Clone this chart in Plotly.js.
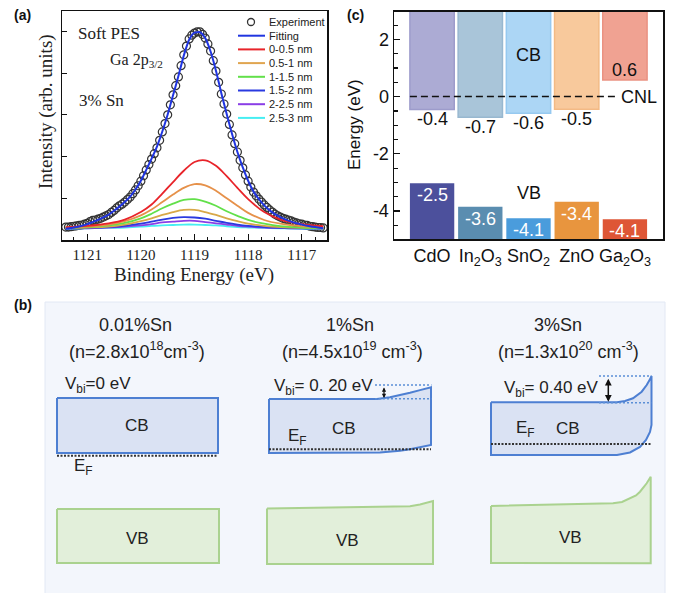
<!DOCTYPE html>
<html><head><meta charset="utf-8">
<script src="https://cdn.plot.ly/plotly-3.0.1.min.js"></script>
<style>html,body{margin:0;padding:0;background:#fff}#chart{width:673px;height:593px}</style>
</head><body><div id="chart"></div>
<script>
// ---------------- Panel (a): Ga 2p3/2 soft PES ----------------
const expEnergy = [1121.40,1121.35,1121.30,1121.25,1121.20,1121.15,1121.10,1121.05,1121.00,1120.95,1120.90,1120.85,1120.80,1120.75,1120.70,1120.65,1120.60,1120.55,1120.50,1120.45,1120.40,1120.35,1120.30,1120.25,1120.20,1120.15,1120.10,1120.05,1120.00,1119.95,1119.90,1119.85,1119.80,1119.75,1119.70,1119.65,1119.60,1119.55,1119.50,1119.45,1119.40,1119.35,1119.30,1119.25,1119.20,1119.15,1119.10,1119.05,1119.00,1118.95,1118.90,1118.85,1118.80,1118.75,1118.70,1118.65,1118.60,1118.55,1118.50,1118.45,1118.40,1118.35,1118.30,1118.25,1118.20,1118.15,1118.10,1118.05,1118.00,1117.95,1117.90,1117.85,1117.80,1117.75,1117.70,1117.65,1117.60,1117.55,1117.50,1117.45,1117.40,1117.35,1117.30,1117.25,1117.20,1117.15,1117.10,1117.05,1117.00,1116.95,1116.90,1116.85,1116.80,1116.75,1116.70,1116.65,1116.60];
const expIntensity = [0.31,0.31,0.32,0.33,0.34,0.35,0.36,0.38,0.40,0.44,0.47,0.48,0.50,0.52,0.55,0.58,0.61,0.66,0.71,0.77,0.82,0.86,0.91,0.97,1.03,1.11,1.20,1.30,1.41,1.54,1.68,1.81,1.94,2.07,2.21,2.39,2.59,2.79,3.00,3.24,3.48,3.70,3.91,4.18,4.44,4.65,4.82,4.91,4.96,4.99,4.99,4.93,4.84,4.70,4.53,4.30,4.05,3.78,3.50,3.26,3.02,2.77,2.52,2.31,2.11,1.91,1.73,1.56,1.41,1.27,1.15,1.06,0.98,0.91,0.84,0.78,0.72,0.67,0.62,0.58,0.55,0.52,0.50,0.48,0.46,0.43,0.41,0.39,0.38,0.36,0.35,0.33,0.32,0.31,0.30,0.30,0.29];
const fitEnergy = [1121.4,1121.3,1121.2,1121.1,1121.0,1120.9,1120.8,1120.7,1120.6,1120.5,1120.4,1120.3,1120.2,1120.1,1120.0,1119.9,1119.8,1119.7,1119.6,1119.5,1119.4,1119.3,1119.2,1119.1,1119.0,1118.9,1118.8,1118.7,1118.6,1118.5,1118.4,1118.3,1118.2,1118.1,1118.0,1117.9,1117.8,1117.7,1117.6,1117.5,1117.4,1117.3,1117.2,1117.1,1117.0,1116.9,1116.8,1116.7,1116.6];
const fitIntensity = [0.27,0.29,0.31,0.34,0.38,0.43,0.48,0.54,0.61,0.70,0.80,0.91,1.04,1.21,1.42,1.68,1.95,2.24,2.60,3.01,3.47,3.93,4.42,4.80,4.97,4.98,4.84,4.52,4.06,3.52,3.02,2.54,2.11,1.74,1.42,1.16,0.98,0.83,0.71,0.62,0.55,0.49,0.44,0.40,0.37,0.34,0.32,0.30,0.28];
const compEnergy = [1121.4,1121.0,1120.6,1120.3,1120.0,1119.8,1119.6,1119.4,1119.2,1119.0,1118.8,1118.6,1118.4,1118.2,1118.0,1117.7,1117.4,1117.0,1116.6];
const comp0_05  = [0.31,0.34,0.40,0.49,0.67,0.85,1.11,1.39,1.66,1.87,1.91,1.78,1.53,1.25,0.98,0.67,0.49,0.38,0.33];
const comp05_1  = [0.30,0.32,0.37,0.45,0.59,0.73,0.91,1.09,1.25,1.34,1.31,1.18,1.00,0.82,0.65,0.48,0.39,0.33,0.31];
const comp1_15  = [0.30,0.31,0.35,0.41,0.52,0.63,0.76,0.87,0.96,0.98,0.92,0.82,0.69,0.58,0.48,0.39,0.33,0.30,0.29];
const compExtra = [0.29,0.30,0.32,0.37,0.45,0.52,0.60,0.67,0.72,0.72,0.67,0.60,0.52,0.45,0.39,0.34,0.31,0.29,0.28];
const comp15_2  = [0.28,0.29,0.31,0.34,0.39,0.44,0.49,0.53,0.55,0.54,0.51,0.46,0.41,0.37,0.34,0.31,0.29,0.28,0.28];
const comp2_25  = [0.28,0.28,0.30,0.32,0.35,0.38,0.42,0.44,0.46,0.46,0.43,0.40,0.37,0.34,0.32,0.30,0.29,0.28,0.28];
const comp25_3  = [0.27,0.28,0.29,0.30,0.32,0.34,0.35,0.36,0.37,0.37,0.36,0.35,0.33,0.31,0.30,0.29,0.28,0.27,0.27];
const legendNames = ["Experiment","Fitting","0-0.5 nm","0.5-1 nm","1-1.5 nm","1.5-2 nm","2-2.5 nm","2.5-3 nm"];
const legendColors = ["#333333","#2035e0","#e8242a","#e0a550","#62e04a","#2a3ae0","#8a3ee6","#46eef2"];

// ---------------- Panel (c): band alignment ----------------
const materials = ["CdO","In<sub>2</sub>O<sub>3</sub>","SnO<sub>2</sub>","ZnO","Ga<sub>2</sub>O<sub>3</sub>"];
const matIndex = [0,1,2,3,4];
const cbMin = [-0.45,-0.72,-0.58,-0.44,0.58];
const vbMax = [-3.03,-3.85,-4.25,-3.68,-4.29];
const cbLabels = ["-0.4","-0.7","-0.6","-0.5","0.6"];
const vbLabels = ["-2.5","-3.6","-4.1","-3.4","-4.1"];
const cbFill = ["#acabd4","#a9c5d9","#acd6f5","#f8c99c","#f0a292"];
const cbEdge = ["#9d9ccb","#98b8d0","#96c9f0","#f3ba85","#ea9282"];
const vbFill = ["#4c509c","#5a8db0","#4a9cdc","#e8953e","#de5636"];
const energyTicks = [-4,-2,0,2];
const energyTickText = ["-4","-2","0","2"];

// ---------------- Panel (b): band-bending schematic (drawing units) ----------------
const panelTitles = ["0.01%Sn","1%Sn","3%Sn"];
const carrierLabels = ["(n=2.8x10<sup>18</sup>cm<sup>-3</sup>)","(n=4.5x10<sup>19</sup> cm<sup>-3</sup>)","(n=1.3x10<sup>20</sup> cm<sup>-3</sup>)"];
const vbiLabels = ["V<sub>bi</sub>=0 eV","V<sub>bi</sub>= 0. 20 eV","V<sub>bi</sub>= 0.40 eV"];
const cb1X = [57,218,218,57,57];
const cb1Y = [398,398,453,453,398];
const vb1X = [57,219,219,57,57];
const vb1Y = [509,509,563,563,509];
const cb2X = [269,377,390,400,410,420,431,431,420,410,400,390,380,269,269];
const cb2Y = [399,399,397.2,395.2,392.7,390.1,387.3,445,447.5,449.3,450.7,451.8,452.5,453,399];
const vb2X = [267,400,410,420,427,433,433,267,267];
const vb2Y = [508.5,507,506.3,504.5,502.8,501,564,564,508.5];
const cb3X = [491,617,625,633,641.7,646.7,650,651.5,651.5,650,646,640,630,617,491,491];
const cb3Y = [402.3,402.3,401,398.3,391.7,385,379.3,376,425,432,440,447,452.5,455,455,402.3];
const vb3X = [491,613,622,630,636,640,644,646.7,650.7,650.7,491,491];
const vb3Y = [506,503.3,502,498.3,495.5,491.7,487,483.3,476.7,563.3,563,506];

const W = 673, H = 593;
const px = v => v / W, py = v => 1 - v / H;
const SERIF = "Liberation Serif, Times New Roman, serif";
const SANS = "Liberation Sans, Arial, sans-serif";

const traces = [];
// (a)
traces.push({x: expEnergy, y: expIntensity, mode: 'markers', type: 'scatter', xaxis: 'x', yaxis: 'y',
  marker: {symbol: 'circle-open', size: 8, color: '#333', line: {width: 1.2, color: '#333'}}, hoverinfo: 'skip'});
const comps = [
  [comp25_3, '#46eef2'], [comp2_25, '#8a3ee6'], [comp15_2, '#2a3ae0'], [compExtra, '#d8a848'],
  [comp1_15, '#62e04a'], [comp05_1, '#e6914a'], [comp0_05, '#e8242a']
];
comps.forEach(([vals, col]) => traces.push({x: compEnergy, y: vals, mode: 'lines', type: 'scatter', xaxis: 'x', yaxis: 'y',
  line: {color: col, width: 1.8, shape: 'spline', smoothing: 1}, hoverinfo: 'skip'}));
traces.push({x: fitEnergy, y: fitIntensity, mode: 'lines', type: 'scatter', xaxis: 'x', yaxis: 'y',
  line: {color: '#2035e0', width: 2, shape: 'spline', smoothing: 0.6}, hoverinfo: 'skip'});

// (c)
traces.push({type: 'bar', x: matIndex, base: cbMin, y: cbMin.map(v => 4 - v), width: 0.92, xaxis: 'x2', yaxis: 'y2',
  marker: {color: cbFill, line: {color: cbEdge, width: 1.5}}, hoverinfo: 'skip'});
traces.push({type: 'bar', x: matIndex, base: vbMax.map(() => -6), y: vbMax.map(v => v + 6), width: 0.92, xaxis: 'x2', yaxis: 'y2',
  marker: {color: vbFill, line: {width: 0}}, hoverinfo: 'skip'});

// (b)
const blueEdge = '#4d7fd2', blueFill = '#dae2f3', greenEdge = '#aad28f', greenFill = '#e2efda';
[[cb1X, cb1Y], [cb2X, cb2Y], [cb3X, cb3Y]].forEach(([xs, ys]) => traces.push({x: xs, y: ys, type: 'scatter', mode: 'lines',
  fill: 'toself', fillcolor: blueFill, line: {color: blueEdge, width: 2}, xaxis: 'x3', yaxis: 'y3', hoverinfo: 'skip'}));
[[vb1X, vb1Y], [vb2X, vb2Y], [vb3X, vb3Y]].forEach(([xs, ys]) => traces.push({x: xs, y: ys, type: 'scatter', mode: 'lines',
  fill: 'toself', fillcolor: greenFill, line: {color: greenEdge, width: 2}, xaxis: 'x3', yaxis: 'y3', hoverinfo: 'skip'}));

const shapes = [];
const annotations = [];
const paperText = (t, x, y, font, extra) => annotations.push(Object.assign({xref: 'paper', yref: 'paper', x: px(x), y: py(y),
  xanchor: 'center', yanchor: 'middle', text: t, showarrow: false, font: font}, extra || {}));

// background for (b)
shapes.push({type: 'rect', xref: 'x3', yref: 'y3', x0: 45, x1: 665, y0: 302, y1: 594, fillcolor: '#f3f6fc',
  line: {color: '#e2e8f4', width: 1}, layer: 'below'});

// Fermi levels & Vbi guide lines in (b)
const efLines = [[57, 218, 455.7], [269, 431, 449.3], [491, 651.5, 444]];
efLines.forEach(([a, b, y]) => shapes.push({type: 'line', xref: 'x3', yref: 'y3', x0: a, x1: b, y0: y, y1: y,
  line: {color: '#333', width: 2, dash: '2px,1.5px'}}));
const vbiGuides = [[375, 431.5, 385], [375, 431.5, 398.7], [599, 651.5, 376], [599, 651.5, 402.7]];
vbiGuides.forEach(([a, b, y]) => shapes.push({type: 'line', xref: 'x3', yref: 'y3', x0: a, x1: b, y0: y, y1: y,
  line: {color: '#5b8fd6', width: 1.5, dash: '2px,2px'}}));
annotations.push({xref: 'x3', yref: 'y3', axref: 'x3', ayref: 'y3', x: 384, y: 398, ax: 384, ay: 386, text: '',
  showarrow: true, arrowhead: 2, startarrowhead: 2, arrowside: 'end+start', arrowsize: 0.7, arrowwidth: 1.2, arrowcolor: '#111'});
annotations.push({xref: 'x3', yref: 'y3', axref: 'x3', ayref: 'y3', x: 608.3, y: 401.7, ax: 608.3, ay: 377.3, text: '',
  showarrow: true, arrowhead: 2, startarrowhead: 2, arrowside: 'end+start', arrowsize: 0.9, arrowwidth: 1.5, arrowcolor: '#111'});

// (b) texts
const titleX = [135, 350, 558], nX = [137, 352, 568];
panelTitles.forEach((t, i) => {
  annotations.push({xref: 'x3', yref: 'y3', x: titleX[i], y: 325, text: t, showarrow: false, font: {family: SANS, size: 18, color: '#222'}});
  annotations.push({xref: 'x3', yref: 'y3', x: nX[i], y: 350, text: carrierLabels[i], showarrow: false, font: {family: SANS, size: 18, color: '#222'}});
});
const vbiX = [63, 272, 502], vbiY = [385, 387, 389];
vbiLabels.forEach((t, i) => annotations.push({xref: 'x3', yref: 'y3', x: vbiX[i], y: vbiY[i], xanchor: 'left', text: t,
  showarrow: false, font: {family: SANS, size: 17, color: '#222'}}));
const bandText = [["CB", 137, 425], ["VB", 137, 538], ["CB", 344, 428], ["VB", 347, 540], ["CB", 568, 428], ["VB", 570, 537],
  ["E<sub>F</sub>", 83, 467], ["E<sub>F</sub>", 297, 437], ["E<sub>F</sub>", 525, 429]];
bandText.forEach(([t, x, y]) => annotations.push({xref: 'x3', yref: 'y3', x: x, y: y, text: t, showarrow: false,
  font: {family: SANS, size: 17, color: '#222'}}));

// (a) legend drawn manually (compact rows)
legendNames.forEach((name, i) => {
  const yy = 22 + i * 13.7;
  if (i === 0) {
    shapes.push({type: 'circle', xref: 'paper', yref: 'paper', x0: px(247.5), x1: px(254.5), y0: py(yy + 3.5), y1: py(yy - 3.5),
      line: {color: '#333', width: 1.3}});
  } else {
    shapes.push({type: 'line', xref: 'paper', yref: 'paper', x0: px(238), x1: px(265), y0: py(yy), y1: py(yy),
      line: {color: legendColors[i], width: 2}});
  }
  paperText(name, 267, yy, {family: SANS, size: 11, color: '#222'}, {xanchor: 'left'});
});
// (a) texts
paperText('Soft PES', 76, 33, {family: SERIF, size: 17, color: '#222'}, {xanchor: 'left'});
paperText('Ga 2p<sub>3/2</sub>', 108, 60, {family: SERIF, size: 16, color: '#222'}, {xanchor: 'left'});
paperText('3% Sn', 77, 100, {family: SERIF, size: 17, color: '#222'}, {xanchor: 'left'});
paperText('Intensity (arb. units)', 46, 111, {family: SERIF, size: 19, color: '#222'}, {textangle: -90});
paperText('Binding Energy (eV)', 194, 275, {family: SERIF, size: 19, color: '#222'});

// (c) texts
cbLabels.forEach((t, i) => annotations.push({xref: 'x2', yref: 'y2', x: matIndex[i], y: cbMin[i], yshift: cbMin[i] > 0 ? 10 : -10,
  text: t, showarrow: false, font: {family: SANS, size: 18, color: '#111'}}));
vbLabels.forEach((t, i) => annotations.push({xref: 'x2', yref: 'y2', x: matIndex[i], y: vbMax[i], yshift: -12,
  text: t, showarrow: false, font: {family: SANS, size: 18, color: '#ffffff'}}));
annotations.push({xref: 'x2', yref: 'y2', x: 2, y: 1.46, text: 'CB', showarrow: false, font: {family: SANS, size: 18, color: '#111'}});
annotations.push({xref: 'x2', yref: 'y2', x: 2, y: -3.37, text: 'VB', showarrow: false, font: {family: SANS, size: 18, color: '#111'}});
annotations.push({xref: 'x2', yref: 'y2', x: 3.87, y: 0, xanchor: 'left', text: 'CNL', showarrow: false, font: {family: SANS, size: 18, color: '#111'}});
paperText('Energy (eV)', 355, 125, {family: SANS, size: 17, color: '#111'}, {textangle: -90});
shapes.push({type: 'line', xref: 'x2', yref: 'y2', x0: -0.46, x1: 3.84, y0: 0, y1: 0, line: {color: '#111', width: 1.5, dash: '7px,4px'}, layer: 'above'});

// panel letters
[['(a)', 23, 15], ['(c)', 355, 15], ['(b)', 23, 305]].forEach(([t, x, y]) =>
  paperText('<b>' + t + '</b>', x, y, {family: SANS, size: 14, color: '#111'}));

const layout = {
  width: W, height: H, margin: {l: 0, r: 0, t: 0, b: 0}, paper_bgcolor: '#fff', plot_bgcolor: 'rgba(0,0,0,0)',
  showlegend: false, barmode: 'overlay',
  xaxis: {domain: [px(62), px(327)], range: [1121.47, 1116.53], anchor: 'y', showgrid: false, zeroline: false,
    showline: true, linecolor: '#111', linewidth: 1.5, mirror: true, ticks: 'inside', ticklen: 6, tickwidth: 1.2, tickcolor: '#111',
    dtick: 1, tick0: 1117, minor: {dtick: 0.25, ticks: 'inside', ticklen: 3, tickcolor: '#111', tickwidth: 1},
    tickfont: {family: SERIF, size: 15, color: '#222'}},
  yaxis: {domain: [py(240), py(11)], range: [0, 5.49], anchor: 'x', showgrid: false, zeroline: false,
    showline: true, linecolor: '#111', linewidth: 1.5, mirror: true, ticks: 'inside', ticklen: 5, tickwidth: 1.2, tickcolor: '#111',
    dtick: 1, tick0: 0, showticklabels: false},
  xaxis2: {domain: [px(394), px(663)], range: [-0.79, 4.79], anchor: 'y2', showgrid: false, zeroline: false,
    showline: true, linecolor: '#111', linewidth: 1.5, mirror: true, ticks: '', tickvals: matIndex, ticktext: materials,
    tickfont: {family: SANS, size: 18, color: '#111'}},
  yaxis2: {domain: [py(239.3), py(11.7)], range: [-4.99, 2.97], anchor: 'x2', showgrid: false, zeroline: false,
    showline: true, linecolor: '#111', linewidth: 1.5, mirror: true, ticks: 'inside', ticklen: 6, tickwidth: 1.2, tickcolor: '#111',
    tickvals: energyTicks, ticktext: energyTickText, minor: {dtick: 0.5, tick0: 0, ticks: 'inside', ticklen: 4, tickcolor: '#111'},
    tickfont: {family: SANS, size: 18, color: '#111'}},
  xaxis3: {domain: [0, 1], range: [0, 673], anchor: 'y3', visible: false, fixedrange: true},
  yaxis3: {domain: [0, py(290)], range: [593, 290], anchor: 'x3', visible: false, fixedrange: true},
  shapes: shapes, annotations: annotations
};
Plotly.newPlot('chart', traces, layout, {staticPlot: true, displayModeBar: false});
</script>
</body></html>
